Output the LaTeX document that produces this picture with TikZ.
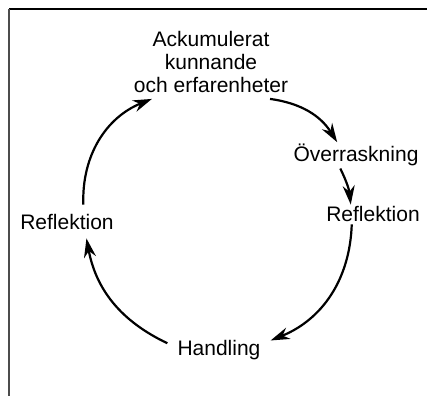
\documentclass[tikz,border=0pt]{standalone}
\usepackage{fontspec}
\setmainfont{Liberation Sans}
\usetikzlibrary{arrows.meta}

\begin{document}
\begin{tikzpicture}[x=1pt, y=1pt,
    lbl/.style={font=\fontsize{21}{23}\selectfont, inner sep=2pt},
    flow/.style={line width=2.2pt, -{Stealth[length=19pt,width=12pt]}}]

\useasboundingbox (0,0) rectangle (427,396);

% cropped frame
\draw [line width=1.5pt] (9,387) -- (427,387);
\draw [line width=1.5pt, black!70] (9,387) -- (9,0);

\node [lbl, align=center, inner ysep=6pt] (acc) at (211,334) {Ackumulerat\\kunnande\\och erfarenheter};
\node [lbl, anchor=base] (over) at (356,234) {Överraskning};
\node [lbl, anchor=base] (refr) at (373,174) {Reflektion};
\node [lbl, anchor=base, inner xsep=10pt] (hand) at (219,41) {Handling};
\node [lbl, anchor=base, inner ysep=9pt] (refl) at (67,167) {Reflektion};

\draw [flow] (acc.-32) to [bend left=25] (over.145);
\draw [flow] (over.220) to [bend left=10] (refr.156);
\draw [flow] (refr.205) to [bend left=33] (hand.10);
\draw [flow] (hand.173) to [bend left=27] (refl.-41);
\draw [flow] (refl.46) to [bend left=35] (acc.212);

\end{tikzpicture}
\end{document}
